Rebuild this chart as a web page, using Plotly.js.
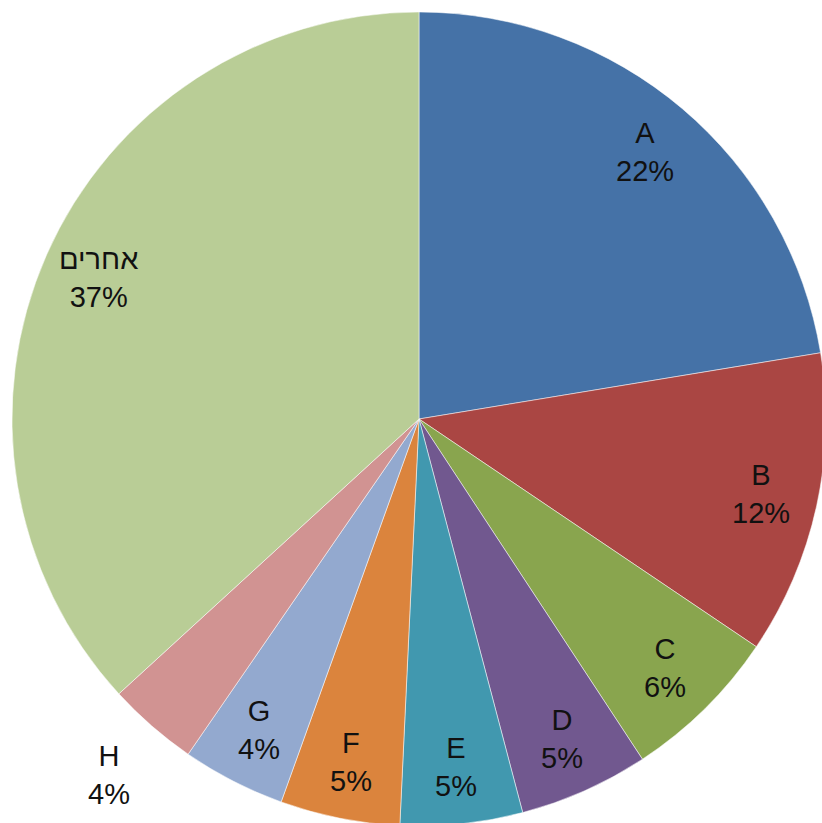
<!DOCTYPE html>
<html>
<head>
<meta charset="utf-8">
<script src="https://cdn.plot.ly/plotly-3.0.1.min.js"></script>
<style>
html,body{margin:0;padding:0;overflow:hidden;background:#fff;width:822px;height:823px;}
#chart{width:830px;height:830px;}
</style>
</head>
<body>
<div id="chart"></div>
<script>
const labels = ["A","B","C","D","E","F","G","H","אחרים"];
const values = [22.4,12.05,6.3,5.15,4.85,4.75,4.1,3.6,36.8];
const colors = ["#4572A7","#AA4643","#89A54E","#71588F","#4198AF","#DB843D","#93A9CF","#D19392","#B9CD96"];
const outsideLabel = [false,false,false,false,false,false,false,true,false];

const total = values.reduce((a,b)=>a+b,0);
const annotations = [];
let cum = 0;
values.forEach((v,i)=>{
  const mid = (cum + v/2)/total*2*Math.PI;
  cum += v;
  const f = outsideLabel[i] ? 1.16 : 0.86;
  annotations.push({
    xref:"paper",yref:"paper",
    x:0.5 + f*Math.sin(mid)/2,
    y:0.5 + f*Math.cos(mid)/2,
    xanchor:"center",yanchor:"middle",
    text:labels[i]+"<br>"+Math.round(v/total*100)+"%",
    showarrow:false,align:"center",
    font:{family:"Liberation Sans, Arial, sans-serif",size:29,color:"#111"}
  });
});

Plotly.newPlot("chart",[{
  type:"pie",
  labels:labels,
  values:values,
  sort:false,
  direction:"clockwise",
  rotation:0,
  marker:{colors:colors,line:{color:"rgba(255,255,255,0.5)",width:1}},
  textinfo:"none",
  hoverinfo:"none"
}],{
  width:830,height:830,
  margin:{l:12,t:12,r:4,b:4},
  showlegend:false,
  paper_bgcolor:"#fff",
  annotations:annotations
},{staticPlot:true});
</script>
</body>
</html>
